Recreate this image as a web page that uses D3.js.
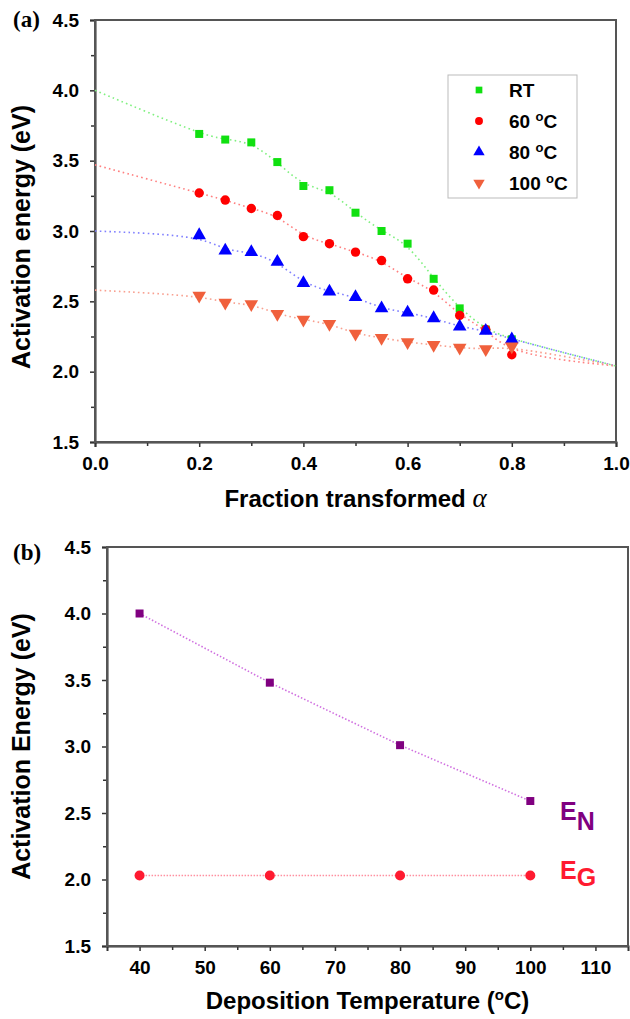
<!DOCTYPE html>
<html>
<head>
<meta charset="utf-8">
<script src="https://cdn.jsdelivr.net/npm/d3@7"></script>
<style>
  body { margin: 0; background: #fff; }
  text { font-family: "Liberation Sans", Arial, sans-serif; font-weight: bold; }
</style>
</head>
<body>
<div id="chart"></div>
<script>
var width = 630,
    height = 1019;

// panel (a) data
var alpha = [0.2, 0.25, 0.3, 0.35, 0.4, 0.45, 0.5, 0.55, 0.6, 0.65, 0.7, 0.75, 0.8];
var seriesNames = ["RT", "60 \u00b0C", "80 \u00b0C", "100 \u00b0C"];
var eRT   = [3.69, 3.65, 3.63, 3.49, 3.32, 3.29, 3.13, 3.00, 2.91, 2.66, 2.45, 2.30, 2.23];
var e60   = [3.27, 3.22, 3.16, 3.11, 2.96, 2.91, 2.85, 2.79, 2.66, 2.58, 2.40, 2.30, 2.12];
var e80   = [2.97, 2.86, 2.85, 2.78, 2.63, 2.57, 2.53, 2.45, 2.42, 2.38, 2.32, 2.29, 2.23];
var e100  = [2.54, 2.49, 2.48, 2.41, 2.37, 2.34, 2.27, 2.24, 2.21, 2.19, 2.17, 2.16, 2.18];
// extrapolated fit ends at alpha = 0 and alpha = 1
var fitStart = [4.00, 3.47, 3.00, 2.58];
var fitEnd = 2.04;

// panel (b) data
var depTemp = [40, 60, 80, 100];
var eN = [4.00, 3.48, 3.01, 2.59];
var eG = [2.03, 2.03, 2.03, 2.03];

var yTicks = [1.5, 2.0, 2.5, 3.0, 3.5, 4.0, 4.5];
var xTicksA = [0, 0.2, 0.4, 0.6, 0.8, 1.0];
var xTicksB = [40, 50, 60, 70, 80, 90, 100, 110];

var svg = d3.select("#chart").append("svg")
    .attr("width", width)
    .attr("height", height);

// ---------- panel (a) ----------
var ax = d3.scaleLinear().domain([0, 1]).range([95, 616]);
var ay = d3.scaleLinear().domain([1.5, 4.5]).range([442, 20]);

var colors = ["#10e010", "#ff0000", "#0000ff", "#f0603c"];
var lineColors = ["#80f080", "#ff8080", "#8080ff", "#f8a090"];
var symbols = [d3.symbolSquare, d3.symbolCircle, d3.symbolTriangle, d3.symbolTriangle];
var sizes = [64, 70, 80, 80];
var allSeries = [eRT, e60, e80, e100];

function frame(g, x, y) {
  g.append("rect")
    .attr("x", x.range()[0]).attr("y", y.range()[1])
    .attr("width", x.range()[1] - x.range()[0])
    .attr("height", y.range()[0] - y.range()[1])
    .attr("fill", "none").attr("stroke", "#555").attr("stroke-width", 2);
}

function axes(g, x, y, xTicks, xMinor, yMinor, xFmt) {
  var yAxis = d3.axisLeft(y).tickValues(yTicks).tickSize(5).tickPadding(11)
      .tickFormat(d3.format(".1f"));
  g.append("g").attr("transform", "translate(" + x.range()[0] + ",0)").call(yAxis);
  g.append("g").attr("transform", "translate(" + x.range()[0] + ",0)")
    .call(d3.axisLeft(y).tickValues(yMinor).tickSize(4).tickFormat(""))
    .select(".domain").remove();

  var xAxis = d3.axisBottom(x).tickValues(xTicks).tickSize(5).tickPadding(10)
      .tickFormat(xFmt);
  g.append("g").attr("transform", "translate(0," + y.range()[0] + ")").call(xAxis);
  g.append("g").attr("transform", "translate(0," + y.range()[0] + ")")
    .call(d3.axisBottom(x).tickValues(xMinor).tickSize(4).tickFormat(""))
    .select(".domain").remove();

  g.selectAll(".domain").attr("stroke", "#333").attr("stroke-width", 2);
  g.selectAll(".tick line").attr("stroke", "#333").attr("stroke-width", 1.5);
  g.selectAll(".tick text").attr("font-size", 19).attr("fill", "#000")
    .style("font-family", "'Liberation Sans', Arial, sans-serif").style("font-weight", "bold");
}

var ga = svg.append("g");
axes(ga, ax, ay, xTicksA, [0.1, 0.3, 0.5, 0.7, 0.9],
     [1.75, 2.25, 2.75, 3.25, 3.75, 4.25], d3.format(".1f"));
frame(ga, ax, ay);

var curve = d3.line()
    .x(function(d) { return ax(d[0]); })
    .y(function(d) { return ay(d[1]); })
    .curve(d3.curveBasis);

allSeries.forEach(function(s, i) {
  var pts = [[0, fitStart[i]]];
  alpha.forEach(function(a, j) { pts.push([a, s[j]]); });
  pts.push([1, fitEnd]);
  ga.append("path")
    .attr("d", curve(pts))
    .attr("fill", "none")
    .attr("stroke", lineColors[i])
    .attr("stroke-width", 1.6)
    .attr("stroke-dasharray", "1.6,3.2");
});

allSeries.forEach(function(s, i) {
  ga.selectAll(".pt" + i)
    .data(s)
    .enter().append("path")
    .attr("class", "pt" + i)
    .attr("d", d3.symbol().type(symbols[i]).size(sizes[i]))
    .attr("fill", colors[i])
    .attr("transform", function(d, j) {
      return "translate(" + ax(alpha[j]) + "," + ay(d) + ")" + (i === 3 ? " rotate(180)" : "");
    });
});

// legend
var leg = ga.append("g");
leg.append("rect").attr("x", 448).attr("y", 75).attr("width", 129).attr("height", 123)
  .attr("fill", "#fff").attr("stroke", "#bbb").attr("stroke-width", 1);
seriesNames.forEach(function(name, i) {
  var yy = 90 + i * 31;
  leg.append("path")
    .attr("d", d3.symbol().type(symbols[i]).size(sizes[i] * 0.7))
    .attr("fill", colors[i])
    .attr("transform", "translate(479," + yy + ")" + (i === 3 ? " rotate(180)" : ""));
  var t = leg.append("text").attr("x", 509).attr("y", yy + 7).attr("font-size", 19);
  if (i === 0) {
    t.text(name);
  } else {
    var num = name.split(" ")[0];
    t.append("tspan").text(num + " ");
    t.append("tspan").attr("dy", -7).attr("font-size", 13).text("o");
    t.append("tspan").attr("dy", 7).text("C");
  }
});

ga.append("text")
  .attr("transform", "translate(30," + ((ay.range()[0] + ay.range()[1]) / 2 + 6) + ") rotate(-90)")
  .attr("text-anchor", "middle").attr("font-size", 25)
  .text("Activation energy (eV)");

var xl = ga.append("text")
  .attr("x", (ax.range()[0] + ax.range()[1]) / 2).attr("y", 507)
  .attr("text-anchor", "middle").attr("font-size", 24);
xl.append("tspan").text("Fraction transformed ");
xl.append("tspan").style("font-style", "italic").style("font-weight", "normal")
  .style("font-family", "'Liberation Serif', serif").attr("font-size", 27).text("\u03b1");

ga.append("text").attr("x", 13).attr("y", 27)
  .style("font-family", "'Liberation Serif', serif").attr("font-size", 23)
  .text("(a)");

// ---------- panel (b) ----------
var bx = d3.scaleLinear().domain([35, 115]).range([107, 628]);
var by = d3.scaleLinear().domain([1.5, 4.5]).range([946, 547]);

var gb = svg.append("g");
axes(gb, bx, by, xTicksB, [45, 55, 65, 75, 85, 95, 105],
     [1.75, 2.25, 2.75, 3.25, 3.75, 4.25], d3.format("d"));
frame(gb, bx, by);

var straight = d3.line()
    .x(function(d, j) { return bx(depTemp[j]); })
    .y(function(d) { return by(d); });

gb.append("path").attr("d", straight(eN)).attr("fill", "none")
  .attr("stroke", "#d070e0").attr("stroke-width", 1.6).attr("stroke-dasharray", "1.5,2");
gb.append("path").attr("d", straight(eG)).attr("fill", "none")
  .attr("stroke", "#ff90a0").attr("stroke-width", 1.6).attr("stroke-dasharray", "1.5,1.5");

gb.selectAll(".en").data(eN).enter().append("path")
  .attr("d", d3.symbol().type(d3.symbolSquare).size(64))
  .attr("fill", "#800080")
  .attr("transform", function(d, j) { return "translate(" + bx(depTemp[j]) + "," + by(d) + ")"; });
gb.selectAll(".eg").data(eG).enter().append("circle")
  .attr("cx", function(d, j) { return bx(depTemp[j]); })
  .attr("cy", function(d) { return by(d); })
  .attr("r", 5).attr("fill", "#ff1a30");

var en = gb.append("text").attr("x", 560).attr("y", 820).attr("font-size", 25)
  .attr("fill", "#800080");
en.append("tspan").text("E");
en.append("tspan").attr("dy", 10).text("N");
var eg = gb.append("text").attr("x", 560).attr("y", 879).attr("font-size", 25)
  .attr("fill", "#ff1a30");
eg.append("tspan").text("E");
eg.append("tspan").attr("dy", 7).text("G");

gb.append("text")
  .attr("transform", "translate(30," + ((by.range()[0] + by.range()[1]) / 2) + ") rotate(-90)")
  .attr("text-anchor", "middle").attr("font-size", 25)
  .text("Activation Energy (eV)");

var dl = gb.append("text")
  .attr("x", (bx.range()[0] + bx.range()[1]) / 2).attr("y", 1009)
  .attr("text-anchor", "middle").attr("font-size", 24);
dl.append("tspan").text("Deposition Temperature (");
dl.append("tspan").attr("dy", -9).attr("font-size", 15).text("o");
dl.append("tspan").attr("dy", 9).text("C)");

gb.append("text").attr("x", 13).attr("y", 560)
  .style("font-family", "'Liberation Serif', serif").attr("font-size", 23)
  .text("(b)");
</script>
</body>
</html>
